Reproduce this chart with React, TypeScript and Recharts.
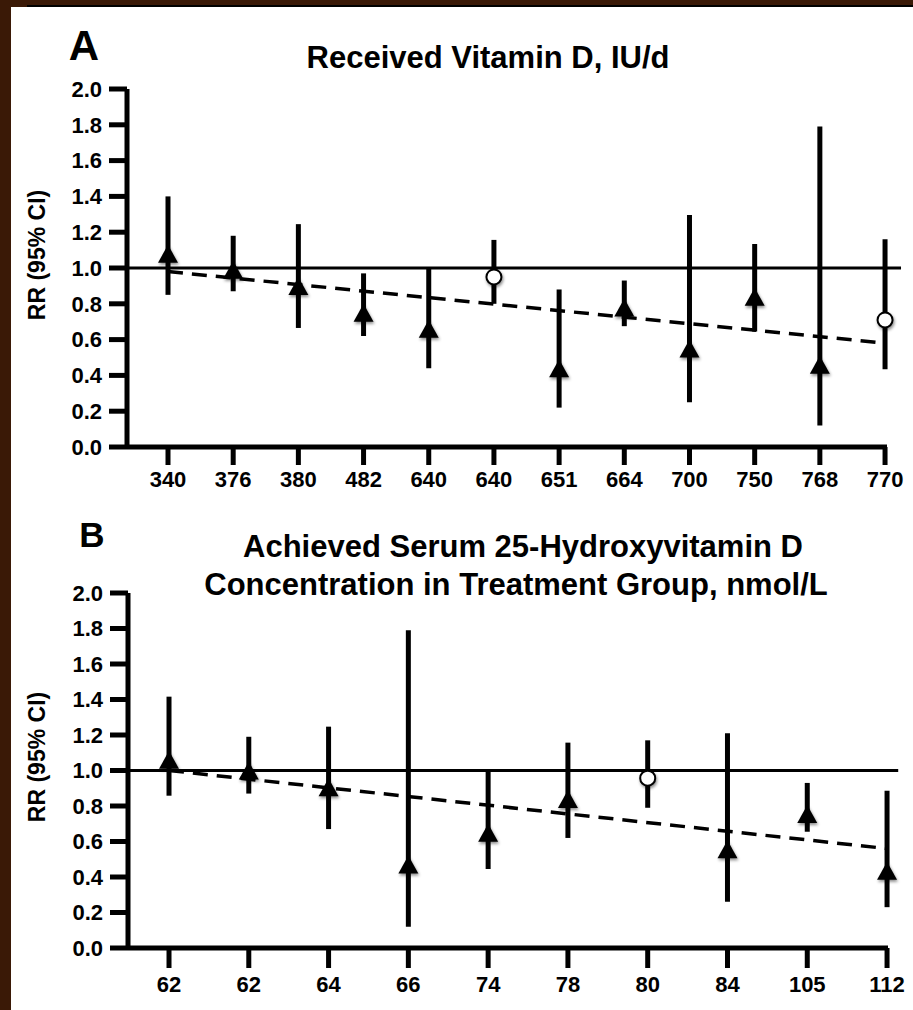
import { ScatterChart, Scatter, XAxis, YAxis, ErrorBar, ReferenceLine } from 'recharts';

// Panel A: received vitamin D dose, IU/d
const doseLabels = ['340', '376', '380', '482', '640', '640', '651', '664', '700', '750', '768', '770'];
const doseRR = [1.08, 0.99, 0.9, 0.75, 0.66, 0.95, 0.44, 0.78, 0.55, 0.84, 0.46, 0.71];
const doseLow = [0.85, 0.87, 0.665, 0.62, 0.44, 0.8, 0.22, 0.675, 0.25, 0.645, 0.12, 0.435];
const doseHigh = [1.4, 1.18, 1.245, 0.97, 1.0, 1.157, 0.88, 0.93, 1.296, 1.134, 1.79, 1.16];
const doseMarker = ['tri', 'tri', 'tri', 'tri', 'tri', 'circle', 'tri', 'tri', 'tri', 'tri', 'tri', 'circle'];
const doseTrend = [0.98, 0.58];

// Panel B: achieved serum 25(OH)D, nmol/L
const serumLabels = ['62', '62', '64', '66', '74', '78', '80', '84', '105', '112'];
const serumRR = [1.06, 1.0, 0.905, 0.47, 0.65, 0.84, 0.957, 0.557, 0.755, 0.435];
const serumLow = [0.858, 0.87, 0.67, 0.12, 0.445, 0.62, 0.79, 0.26, 0.655, 0.23];
const serumHigh = [1.416, 1.19, 1.247, 1.79, 1.0, 1.157, 1.17, 1.21, 0.93, 0.886];
const serumMarker = ['tri', 'tri', 'tri', 'tri', 'tri', 'tri', 'circle', 'tri', 'tri', 'tri'];
const serumTrend = [1.0, 0.56];

const yTicks = [0, 0.2, 0.4, 0.6, 0.8, 1.0, 1.2, 1.4, 1.6, 1.8, 2.0];

const FONT = '"Liberation Sans", Arial, sans-serif';
const shadow = { filter: 'drop-shadow(1px 2px 1.5px rgba(0,0,0,0.45))' };

const Marker = (props: any) => {
  const { cx, cy } = props;
  const kind = props.payload?.marker ?? props.marker;
  if (cx == null || cy == null) return null;
  if (kind === 'circle') {
    return <circle cx={cx} cy={cy} r={7.5} fill="#fff" stroke="#000" strokeWidth={2} style={shadow} />;
  }
  return (
    <polygon
      points={`${cx},${cy - 9} ${cx + 10},${cy + 9} ${cx - 10},${cy + 9}`}
      fill="#000"
      style={shadow}
    />
  );
};

function Panel({ labels, rr, low, high, marker, trend, top, height, margin, xDomain, refEnd, xTickSize, xTickMargin }: any) {
  const rows = labels.map((_: string, i: number) => ({
    x: i,
    y: rr[i],
    err: [rr[i] - low[i], high[i] - rr[i]],
    marker: marker[i],
  }));
  const idx = labels.map((_: string, i: number) => i);
  const last = labels.length - 1;
  return (
    <div style={{ position: 'absolute', left: 0, top }}>
      <ScatterChart width={913} height={height} margin={margin}>
        <XAxis
          type="number"
          dataKey="x"
          domain={xDomain}
          ticks={idx}
          interval={0}
          tickFormatter={(i: number) => labels[i]}
          axisLine={{ stroke: '#000', strokeWidth: 5 }}
          tickLine={{ stroke: '#000', strokeWidth: 5 }}
          tickSize={xTickSize}
          tickMargin={xTickMargin}
          height={50}
          tick={{ fill: '#000', fontSize: 22, fontWeight: 'bold', fontFamily: FONT }}
        />
        <YAxis
          type="number"
          dataKey="y"
          domain={[0, 2]}
          ticks={yTicks}
          interval={0}
          tickFormatter={(v: number) => v.toFixed(1)}
          axisLine={{ stroke: '#000', strokeWidth: 5 }}
          tickLine={{ stroke: '#000', strokeWidth: 5 }}
          tickSize={18}
          tickMargin={7}
          width={60}
          tick={{ fill: '#000', fontSize: 22, fontWeight: 'bold', fontFamily: FONT }}
        />
        <ReferenceLine
          segment={[{ x: xDomain[0], y: 1 }, { x: refEnd, y: 1 }]}
          stroke="#000"
          strokeWidth={3}
          ifOverflow="visible"
        />
        <ReferenceLine
          segment={[{ x: 0, y: trend[0] }, { x: last, y: trend[1] }]}
          stroke="#000"
          strokeWidth={3.5}
          strokeDasharray="15 9"
          ifOverflow="visible"
        />
        <Scatter data={rows} shape={Marker} isAnimationActive={false}>
          <ErrorBar dataKey="err" direction="y" width={0} stroke="#000" strokeWidth={5} />
        </Scatter>
      </ScatterChart>
    </div>
  );
}

export default function App() {
  return (
    <div
      style={{
        position: 'absolute',
        left: 0,
        top: 0,
        width: 913,
        height: 1010,
        overflow: 'hidden',
        background: '#3a1906',
        fontFamily: FONT,
      }}
    >
      <div style={{ position: 'absolute', left: 11, top: 7, right: 0, bottom: 0, background: '#fff' }} />
      <div style={{ position: 'absolute', left: 27, top: 5, right: 0, height: 2, background: '#000' }} />

      <Panel
        labels={doseLabels}
        rr={doseRR}
        low={doseLow}
        high={doseHigh}
        marker={doseMarker}
        trend={doseTrend}
        top={0}
        height={520}
        margin={{ top: 89, right: 26, bottom: 23, left: 67 }}
        xDomain={[-0.629, 11.03]}
        refEnd={11.245}
        xTickSize={18}
        xTickMargin={6}
      />
      <Panel
        labels={serumLabels}
        rr={serumRR}
        low={serumLow}
        high={serumHigh}
        marker={serumMarker}
        trend={serumTrend}
        top={500}
        height={510}
        margin={{ top: 93, right: 25, bottom: 12, left: 68 }}
        xDomain={[-0.514, 9.012]}
        refEnd={9.14}
        xTickSize={20}
        xTickMargin={8}
      />

      <svg
        width={913}
        height={1010}
        style={{ position: 'absolute', left: 0, top: 0, pointerEvents: 'none' }}
        fontFamily={FONT}
        fontWeight="bold"
        fill="#000"
      >
        <text x={84} y={60} fontSize={42} textAnchor="middle">A</text>
        <text x={488} y={68} fontSize={31} textAnchor="middle">Received Vitamin D, IU/d</text>
        <text x={92} y={547} fontSize={35} textAnchor="middle">B</text>
        <text x={523} y={557} fontSize={31} textAnchor="middle">Achieved Serum 25-Hydroxyvitamin D</text>
        <text x={516} y={595} fontSize={31} textAnchor="middle">Concentration in Treatment Group, nmol/L</text>
        <text
          x={37}
          y={255}
          fontSize={23}
          textAnchor="middle"
          dominantBaseline="central"
          transform="rotate(-90 37 255)"
        >
          RR (95% CI)
        </text>
        <text
          x={37}
          y={757}
          fontSize={23}
          textAnchor="middle"
          dominantBaseline="central"
          transform="rotate(-90 37 757)"
        >
          RR (95% CI)
        </text>
      </svg>
    </div>
  );
}
